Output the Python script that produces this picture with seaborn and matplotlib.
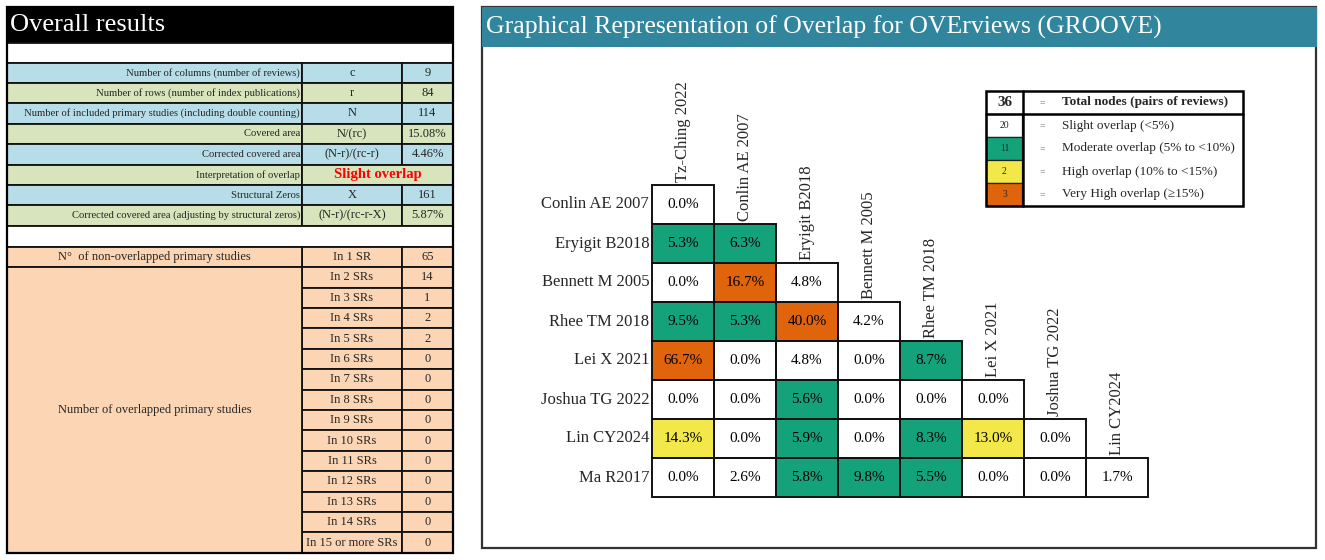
import numpy as np
import pandas as pd
import matplotlib
matplotlib.use("Agg")
import matplotlib.pyplot as plt
from matplotlib.colors import ListedColormap
from matplotlib.patches import Rectangle
import seaborn as sns

# ---------------- data ----------------
summary_labels = [
    "Number of columns (number of reviews)",
    "Number of rows (number of index publications)",
    "Number of included primary studies (including double counting)",
    "Covered area",
    "Corrected covered area",
    "Interpretation of overlap",
    "Structural Zeros",
    "Corrected covered area (adjusting by structural zeros)",
]
summary_symbols = ["c", "r", "N", "N/(rc)", "(N-r)/(rc-r)", "", "X", "(N-r)/(rc-r-X)"]
summary_values = ["9", "84", "114", "15.08%", "4.46%", "", "161", "5.87%"]
interpretation = "Slight overlap"

sr_labels = ["In 1 SR"] + [f"In {k} SRs" for k in range(2, 15)] + ["In 15 or more SRs"]
sr_counts = [65, 14, 1, 2, 2, 0, 0, 0, 0, 0, 0, 0, 0, 0, 0]

row_reviews = ["Conlin AE 2007", "Eryigit B2018", "Bennett M 2005", "Rhee TM 2018",
               "Lei X 2021", "Joshua TG 2022", "Lin CY2024", "Ma R2017"]
col_reviews = ["Tz-Ching 2022", "Conlin AE 2007", "Eryigit B2018", "Bennett M 2005",
               "Rhee TM 2018", "Lei X 2021", "Joshua TG 2022", "Lin CY2024"]
cca_values = [
    [0.0],
    [5.3, 6.3],
    [0.0, 16.7, 4.8],
    [9.5, 5.3, 40.0, 4.2],
    [66.7, 0.0, 4.8, 0.0, 8.7],
    [0.0, 0.0, 5.6, 0.0, 0.0, 0.0],
    [14.3, 0.0, 5.9, 0.0, 8.3, 13.0, 0.0],
    [0.0, 2.6, 5.8, 9.8, 5.5, 0.0, 0.0, 1.7],
]
level_names = ["Slight overlap (<5%)", "Moderate overlap (5% to <10%)",
               "High overlap (10% to <15%)", "Very High overlap (\u226515%)"]
level_colors = ["#FFFFFF", "#14A27A", "#F2E84A", "#E0640C"]
level_bounds = [5, 10, 15]

# ---------------- style ----------------
sns.set_style("white")
plt.rcParams["font.family"] = ["Liberation Serif", "DejaVu Serif"]

W, H = 1325, 560
fig = plt.figure(figsize=(W / 100, H / 100), dpi=100)
bg = fig.add_axes([0, 0, 1, 1], zorder=0)
bg.set_xlim(0, W)
bg.set_ylim(H, 0)
bg.axis("off")


def box(x0, y0, x1, y1, fc, ec="#111111", lw=1.3):
    bg.add_patch(Rectangle((x0, y0), x1 - x0, y1 - y0, facecolor=fc, edgecolor=ec, lw=lw))


# ---------------- left table ----------------
blue, olive, peach = "#B7DEE8", "#D8E4BC", "#FCD5B4"
c0, c1, c2, c3 = 7, 302, 402, 453
rh = 20.4

box(c0, 7, c3, 43, "black", ec="black")
bg.text(10, 25, "Overall results", color="white", fontsize=19, va="center", ha="left")
box(c0, 43, c3, 62.5, "white")

y = 62.5
for i, (lab, sym, val) in enumerate(zip(summary_labels, summary_symbols, summary_values)):
    fc = blue if i % 2 == 0 else olive
    box(c0, y, c1, y + rh, fc)
    bg.text(c1 - 2, y + rh / 2, lab, fontsize=7.7, ha="right", va="center")
    if lab == "Interpretation of overlap":
        box(c1, y, c3, y + rh, fc)
        bg.text((c1 + c3) / 2, y + rh / 2, interpretation, color="#FF0000",
                fontsize=10.5, fontweight="bold", ha="center", va="center")
    else:
        box(c1, y, c2, y + rh, fc)
        box(c2, y, c3, y + rh, fc)
        bg.text((c1 + c2) / 2, y + rh / 2, sym, fontsize=9, ha="center", va="center")
        bg.text((c2 + c3) / 2, y + rh / 2, val, fontsize=9, ha="center", va="center")
    y += rh

box(c0, y, c3, y + 21, "white")
y0 = y + 21
for k, (lab, cnt) in enumerate(zip(sr_labels, sr_counts)):
    yy = y0 + k * rh
    box(c1, yy, c2, yy + rh, peach)
    box(c2, yy, c3, yy + rh, peach)
    bg.text((c1 + c2) / 2, yy + rh / 2, lab, fontsize=9, ha="center", va="center")
    bg.text((c2 + c3) / 2, yy + rh / 2, str(cnt), fontsize=9, ha="center", va="center")
box(c0, y0, c1, y0 + rh, peach)
bg.text((c0 + c1) / 2, y0 + rh / 2, "N\u00b0  of non-overlapped primary studies",
        fontsize=9, ha="center", va="center")
yend = y0 + rh * len(sr_labels)
box(c0, y0 + rh, c1, yend, peach)
bg.text((c0 + c1) / 2, (y0 + rh + yend) / 2, "Number of overlapped primary studies",
        fontsize=9, ha="center", va="center")
bg.add_patch(Rectangle((c0, 7), c3 - c0, yend - 7, fill=False, edgecolor="black", lw=1.6))

# ---------------- right panel ----------------
box(482, 7, 1316, 548, "white", ec="#333333", lw=1.6)
box(482, 7, 1316, 46, "#31859C", ec="#31859C", lw=0.8)
bg.text(486, 27, "Graphical Representation of Overlap for OVErviews (GROOVE)",
        color="white", fontsize=18.5, ha="left", va="center")

# matrix
n_rows, n_cols = len(row_reviews), len(col_reviews)
grid = np.full((n_rows, n_cols), np.nan)
for i, vals in enumerate(cca_values):
    grid[i, :len(vals)] = vals
cca = pd.DataFrame(grid, index=row_reviews, columns=col_reviews)
levels = pd.DataFrame(np.digitize(grid, level_bounds), index=row_reviews,
                      columns=col_reviews).where(cca.notna())
annot = np.array([[f"{v:.1f}%" if not np.isnan(v) else "" for v in r] for r in grid])

ax = fig.add_axes([652 / W, 1 - 497 / H, 496 / W, 312 / H], zorder=2)
ax.patch.set_alpha(0)
sns.heatmap(levels, mask=cca.isna(), cmap=ListedColormap(level_colors),
            vmin=-0.5, vmax=3.5, annot=annot, fmt="",
            annot_kws=dict(color="black", fontsize=11),
            linewidths=0, cbar=False, ax=ax)
# cell borders only around the filled (lower-triangle) cells
for i in range(n_rows):
    for j in range(n_cols):
        if not np.isnan(grid[i, j]):
            ax.add_patch(Rectangle((j, i), 1, 1, fill=False, edgecolor="#111111",
                                   lw=1.4, clip_on=False))
ax.set_xticks([])
ax.set_xlabel("")
ax.set_ylabel("")
ax.tick_params(axis="y", length=0, pad=2, labelsize=12)
plt.setp(ax.get_yticklabels(), rotation=0)
for j, name in enumerate(col_reviews):
    ax.text(j + 0.5, j - 0.08, name, rotation=90, ha="center", va="bottom",
            fontsize=12, clip_on=False)

# legend table
counts = [int((levels == k).sum().sum()) for k in range(len(level_names))]
lx0, lx1, lx2 = 986, 1023, 1243
ly0, ly1, lrh = 91, 114, 23
bg.text((lx0 + lx1) / 2, (ly0 + ly1) / 2, str(sum(counts)), fontsize=11,
        fontweight="bold", ha="center", va="center")
bg.text(1042, (ly0 + ly1) / 2, "=", fontsize=7, color="#777777", ha="center", va="center")
bg.text(1062, (ly0 + ly1) / 2, "Total nodes (pairs of reviews)", fontsize=9.5,
        fontweight="bold", ha="left", va="center")
for k, (name, col, cnt) in enumerate(zip(level_names, level_colors, counts)):
    yy = ly1 + k * lrh
    box(lx0, yy, lx1 - 1, yy + lrh, col, ec="#222222", lw=0.9)
    bg.text((lx0 + lx1) / 2, yy + lrh / 2, str(cnt), fontsize=7, ha="center", va="center")
    bg.text(1042, yy + lrh / 2, "=", fontsize=7, color="#777777", ha="center", va="center")
    bg.text(1062, yy + lrh / 2, name, fontsize=9.5, ha="left", va="center")
lyend = ly1 + lrh * len(level_names)
bg.add_patch(Rectangle((lx0, ly0), lx2 - lx0, lyend - ly0, fill=False, edgecolor="black", lw=1.8))
bg.plot([lx0, lx2], [ly1, ly1], color="black", lw=1.8)
bg.plot([lx1, lx1], [ly0, lyend], color="black", lw=1.8)

fig.savefig("out.png", dpi=100)
